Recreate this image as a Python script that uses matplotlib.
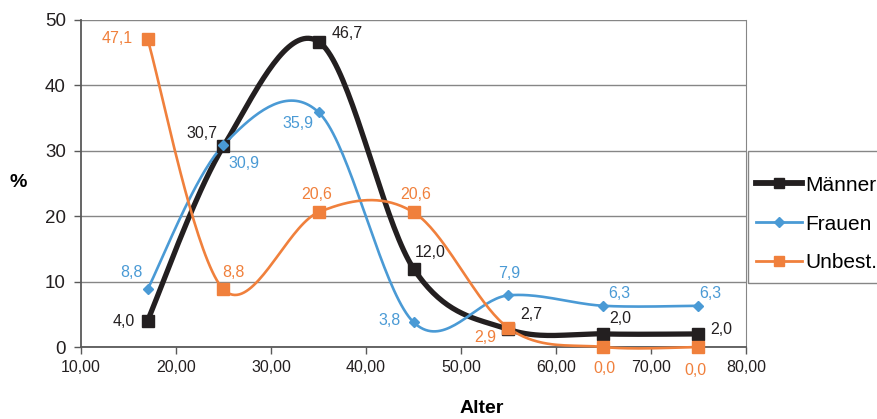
import numpy as np
import matplotlib.pyplot as plt
from matplotlib.patches import Rectangle
from matplotlib.lines import Line2D

plt.rcParams['font.family'] = ['Liberation Sans', 'DejaVu Sans']

alter = [17, 25, 35, 45, 55, 65, 75]
maenner = [4.0, 30.7, 46.7, 12.0, 2.7, 2.0, 2.0]
frauen = [8.8, 30.9, 35.9, 3.8, 7.9, 6.3, 6.3]
unbest = [47.1, 8.8, 20.6, 20.6, 2.9, 0.0, 0.0]

x_ticks = [10, 20, 30, 40, 50, 60, 70, 80]
y_ticks = [0, 10, 20, 30, 40, 50]

# label offsets in pixels (dx, dy), relative to the marker
off_m = [(-24, -1), (-22, 13), (29, 8), (17, 16), (23, 15), (17, 15), (23, 4)]
off_f = [(-16, 17), (20, -19), (-21, -11), (-24, 2), (1, 22), (16, 12), (12, 12)]
off_u = [(-30, 0), (10, 17), (-2, 18), (2, 18), (-23, -9), (1, -21), (-3, -23)]

c_m = '#231f20'
c_f = '#4a9ad5'
c_u = '#f0803c'


def smooth(x, y, n=40):
    # Catmull-Rom style bezier, like the Excel "smoothed line"
    x = np.asarray(x, float)
    y = np.asarray(y, float)
    P = np.column_stack([x, y])
    out = []
    for i in range(len(P) - 1):
        p0 = P[i - 1] if i > 0 else P[i]
        p1, p2 = P[i], P[i + 1]
        p3 = P[i + 2] if i + 2 < len(P) else P[i + 1]
        c1 = p1 + (p2 - p0) / 6
        c2 = p2 - (p3 - p1) / 6
        t = np.linspace(0, 1, n)[:, None]
        seg = ((1 - t) ** 3) * p1 + 3 * (1 - t) ** 2 * t * c1 + 3 * (1 - t) * t ** 2 * c2 + t ** 3 * p2
        out.append(seg if i == 0 else seg[1:])
    s = np.vstack(out)
    return s[:, 0], s[:, 1]


fig = plt.figure(figsize=(8.78, 4.19), dpi=100)
ax = fig.add_axes([81 / 878, 1 - 347 / 419, (746 - 81) / 878, (347 - 20) / 419])

series = [
    (maenner, c_m, 3.8, 's', 8, off_m),
    (frauen, c_f, 1.9, 'D', 5.5, off_f),
    (unbest, c_u, 1.9, 's', 8, off_u),
]
for vals, col, lw, mk, ms, offs in series:
    sx, sy = smooth(alter, vals)
    ax.plot(sx, sy, color=col, lw=lw, solid_capstyle='round', clip_on=False, zorder=3)
    ax.plot(alter, vals, ls='none', marker=mk, ms=ms, color=col, clip_on=False, zorder=4)
    for xv, yv, (dx, dy) in zip(alter, vals, offs):
        ax.annotate(f'{yv:.1f}'.replace('.', ','), (xv, yv),
                    xytext=(dx * 0.72, dy * 0.72), textcoords='offset points',
                    ha='center', va='center', fontsize=11.5, color=col, zorder=5)

ax.set_xlim(10, 80)
ax.set_ylim(0, 50)
ax.set_xticks(x_ticks)
ax.set_xticklabels([f'{v:.2f}'.replace('.', ',') for v in x_ticks], fontsize=11.5, color='#231f20')
ax.set_yticks(y_ticks)
ax.set_yticklabels([str(v) for v in y_ticks], fontsize=13.5, color='#231f20')
ax.tick_params(axis='both', direction='out', length=5, width=1, color='#595959')
ax.tick_params(axis='x', pad=4)
ax.tick_params(axis='y', pad=6)
ax.grid(axis='y', color='#868686', lw=1)
ax.set_axisbelow(True)
ax.spines['top'].set_visible(False)
ax.spines['right'].set_color('#868686')
ax.spines['left'].set_color('#595959')
ax.spines['bottom'].set_color('#595959')
ax.spines['left'].set_linewidth(1.3)
ax.spines['bottom'].set_linewidth(1.3)

fig.text(18 / 878, 1 - 182 / 419, '%', fontsize=14, fontweight='bold', ha='center', va='center')
fig.text(482 / 878, 1 - 408 / 419, 'Alter', fontsize=14, fontweight='bold', ha='center', va='center')

# legend box, running off the right edge
fig.patches.append(Rectangle((748 / 878, 1 - 283 / 419), 0.3, 132 / 419,
                             transform=fig.transFigure, fill=False, ec='#868686', lw=1))
handles = [
    Line2D([], [], color=c_m, lw=4.2, marker='s', ms=7),
    Line2D([], [], color=c_f, lw=2.0, marker='D', ms=5),
    Line2D([], [], color=c_u, lw=2.0, marker='s', ms=7),
]
fig.legend(handles, ['Männer', 'Frauen', 'Unbest.'], loc='center left',
           bbox_to_anchor=(756 / 878, 1 - 224 / 419), frameon=False,
           fontsize=15, handlelength=2.2, handletextpad=0.15, labelspacing=0.95,
           borderpad=0, borderaxespad=0)

fig.savefig('out.png', dpi=100)
